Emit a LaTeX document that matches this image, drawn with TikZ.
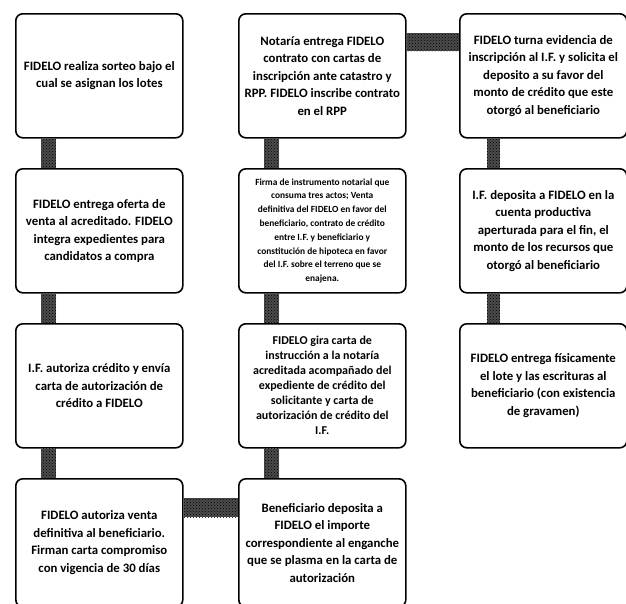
\documentclass[tikz,border=0pt]{standalone}
\usepackage{fontspec}
\setmainfont{Carlito}
\usetikzlibrary{patterns}

\newcommand\boxw{167pt}
\newcommand\boxh{124pt}

\tikzset{
  schritt/.style={draw, line width=1.6pt, rounded corners=7pt, minimum width=\boxw,
    minimum height=\boxh, anchor=north west, inner sep=1pt, align=center,
    font=\fontsize{12.8}{17.5}\selectfont\bfseries},
  schrittEng/.style={schritt, font=\fontsize{12}{15}\selectfont\bfseries},
  schrittKlein/.style={schritt, font=\fontsize{9.4}{13.8}\selectfont\bfseries},
  balken/.style={pattern=crosshatch dots, pattern color=black, preaction={fill=black!70}},
}

\begin{document}
\begin{tikzpicture}[x=1pt, y=-1pt]

% Variablen
\def\spalteA{15}
\def\spalteB{238}
\def\spalteC{459}

\useasboundingbox (0,0) rectangle (626,603);
\clip (0,0) rectangle (626,603);

% Kaesten
\node[schritt] (Sorteo) at (\spalteA,13) {FIDELO realiza sorteo bajo el\\cual se asignan los lotes};
\node[schritt] (Oferta) at (\spalteA,168) {FIDELO entrega oferta de\\venta al acreditado. FIDELO\\integra expedientes para\\candidatos a compra};
\node[schritt] (Autoriza) at (\spalteA,323) {I.F. autoriza crédito y envía\\carta de autorización de\\crédito a FIDELO};
\node[schritt, minimum height=128pt] (Venta) at (\spalteA,478) {FIDELO autoriza venta\\definitiva al beneficiario.\\Firman carta compromiso\\con vigencia de 30 días};
\node[schritt] (Notaria) at (\spalteB,13) {Notaría entrega FIDELO\\contrato con cartas de\\inscripción ante catastro y\\RPP. FIDELO inscribe contrato\\en el RPP};
\node[schrittKlein] (Firma) at (\spalteB,168) {Firma de instrumento notarial que\\consuma tres actos; Venta\\definitiva del FIDELO en favor del\\beneficiario, contrato de crédito\\entre I.F. y beneficiario y\\constitución de hipoteca en favor\\del I.F.\ sobre el terreno que se\\enajena.};
\node[schrittEng] (Instruccion) at (\spalteB,323) {FIDELO gira carta de\\instrucción a la notaría\\acreditada acompañado del\\expediente de crédito del\\solicitante y carta de\\autorización de crédito del\\I.F.};
\node[schritt, minimum height=128pt] (Enganche) at (\spalteB,478) {Beneficiario deposita a\\FIDELO el importe\\correspondiente al enganche\\que se plasma en la carta de\\autorización};
\node[schritt] (Evidencia) at (\spalteC,13) {FIDELO turna evidencia de\\inscripción al I.F. y solicita el\\deposito a su favor del\\monto de crédito que este\\otorgó al beneficiario};
\node[schritt] (Deposito) at (\spalteC,168) {I.F. deposita a FIDELO en la\\cuenta productiva\\aperturada para el fin, el\\monto de los recursos que\\otorgó al beneficiario};
\node[schritt] (Entrega) at (\spalteC,323) {FIDELO entrega físicamente\\el lote y las escrituras al\\beneficiario (con existencia\\de gravamen)};

% Verbindungen
\fill[balken] ([xshift=26pt]Sorteo.south west) rectangle ([xshift=41pt]Oferta.north west);
\fill[balken] ([xshift=26pt]Oferta.south west) rectangle ([xshift=41pt]Autoriza.north west);
\fill[balken] ([xshift=26pt]Autoriza.south west) rectangle ([xshift=41pt]Venta.north west);
\fill[balken] ([yshift=-20pt]Venta.north east) rectangle ([yshift=-39pt]Enganche.north west);
\fill[balken] ([xshift=26pt]Enganche.north west) rectangle ([xshift=41pt]Instruccion.south west);
\fill[balken] ([xshift=26pt]Instruccion.north west) rectangle ([xshift=41pt]Firma.south west);
\fill[balken] ([xshift=26pt]Firma.north west) rectangle ([xshift=41pt]Notaria.south west);
\fill[balken] ([yshift=-20pt]Notaria.north east) rectangle ([yshift=-38pt]Evidencia.north west);
\fill[balken] ([xshift=28pt]Evidencia.south west) rectangle ([xshift=41pt]Deposito.north west);
\fill[balken] ([xshift=28pt]Deposito.south west) rectangle ([xshift=41pt]Entrega.north west);

\end{tikzpicture}
\end{document}
